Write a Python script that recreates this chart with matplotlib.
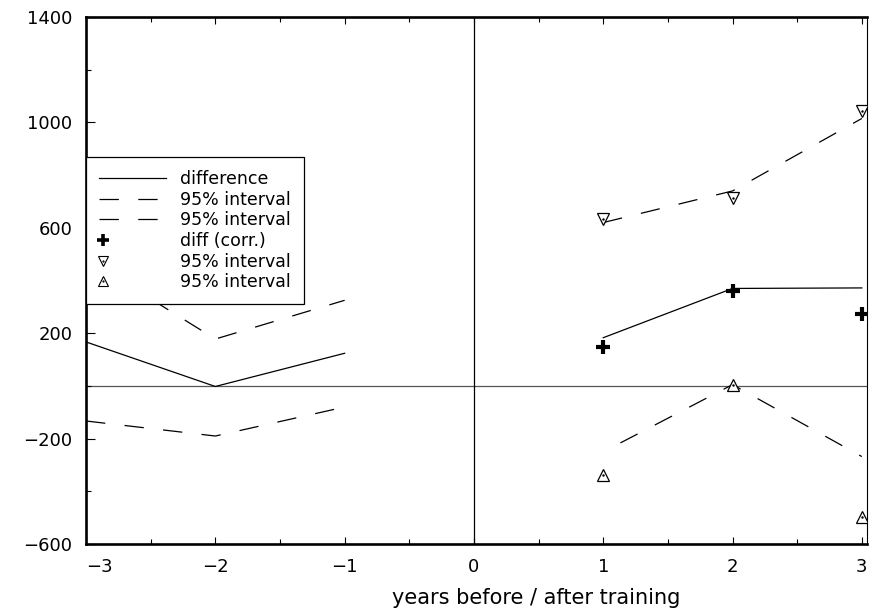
import matplotlib
matplotlib.use('Agg')
import matplotlib.pyplot as plt
import numpy as np
from matplotlib.ticker import MultipleLocator, FixedLocator
from matplotlib.legend_handler import HandlerTuple, HandlerLine2D
from matplotlib.lines import Line2D

# data
years_before = [-3, -2, -1]
diff_before = [167, -2, 124]
upper_before = [483, 178, 325]
lower_before = [-133, -190, -80]

years_after = [1, 2, 3]
diff_after = [183, 370, 372]
upper_after = [620, 740, 1015]
lower_after = [-250, 5, -268]

# corrected estimates (markers)
diff_corr = [149, 361, 273]
upper_corr = [635, 712, 1042]
lower_corr = [-338, 4, -496]

x_ticks = [-3, -2, -1, 0, 1, 2, 3]
y_ticks = [-600, -200, 200, 600, 1000, 1400]


class LeftMarker(HandlerLine2D):
    """legend marker drawn at the left end of the handle box"""
    def get_xdata(self, legend, xdescent, ydescent, width, height, fontsize):
        x = [-xdescent + 3.0]
        return x, x


plt.rcParams['font.family'] = 'DejaVu Sans'
fig = plt.figure(figsize=(8.69, 6.12), dpi=100)
ax = fig.add_axes([0.099, 0.111, 0.8987, 0.8612])

DASH = (0, (15.5, 15.5))
DASH_OFF = (15.5, (15.5, 15.5))

ax.axhline(0, color='#555555', lw=0.9, zorder=1)
ax.axvline(0, color='black', lw=0.9, zorder=1)

ax.plot(years_before, diff_before, color='black', lw=0.9)
ax.plot(years_before, upper_before, color='black', lw=0.9, linestyle=DASH)
ax.plot(years_before, lower_before, color='black', lw=0.9, linestyle=DASH)

ax.plot(years_after, diff_after, color='black', lw=0.9)
ax.plot(years_after, upper_after, color='black', lw=0.9, linestyle=DASH)
ax.plot(years_after, lower_after, color='black', lw=0.9, linestyle=DASH_OFF)

ax.plot(years_after, diff_corr, linestyle='none', marker='+', ms=10,
        mew=3, color='black', zorder=4)
ax.plot(years_after, upper_corr, linestyle='none', marker='v', ms=9,
        mfc='white', mec='black', mew=0.9, zorder=4)
ax.plot(years_after, lower_corr, linestyle='none', marker='^', ms=9,
        mfc='white', mec='black', mew=0.9, zorder=4)
# little centre dots inside the triangles
ax.plot(years_after, upper_corr, linestyle='none', marker='.', ms=1.5,
        color='black', zorder=5)
ax.plot(years_after, lower_corr, linestyle='none', marker='.', ms=1.5,
        color='black', zorder=5)

ax.set_xlim(-3, 3.04)
ax.set_ylim(-600, 1400)

ax.xaxis.set_major_locator(FixedLocator(x_ticks))
ax.xaxis.set_minor_locator(MultipleLocator(0.5))
ax.yaxis.set_major_locator(FixedLocator(y_ticks))
ax.yaxis.set_minor_locator(FixedLocator([-400, 0, 400, 800, 1200]))
ax.set_xticklabels([f'\u2212{abs(v)}' if v < 0 else str(v) for v in x_ticks])
ax.set_yticklabels([f'\u2212{abs(v)}' if v < 0 else str(v) for v in y_ticks])
ax.get_xticklabels()[0].set_horizontalalignment('left')

ax.tick_params(axis='x', which='major', direction='in', length=5, width=0.8,
               top=True, bottom=True, pad=10, labelsize=13)
ax.tick_params(axis='x', which='minor', direction='in', length=3.6, width=0.8,
               top=True, bottom=True)
ax.tick_params(axis='y', which='major', direction='in', length=6.5, width=0.8,
               left=True, right=False, pad=10, labelsize=13)
ax.tick_params(axis='y', which='minor', direction='in', length=3.6, width=0.8,
               left=True, right=False)

for side in ['left', 'bottom', 'top']:
    ax.spines[side].set_linewidth(1.9)
ax.spines['right'].set_linewidth(0.8)

ax.set_xlabel('years before / after training', fontsize=15, labelpad=9)
ax.xaxis.label.set_x(0.577)

# legend
h_diff = Line2D([], [], color='black', lw=0.9)
h_dash = Line2D([], [], color='black', lw=0.9, linestyle=DASH)
h_plus = Line2D([], [], color='black', linestyle='none', marker='+', ms=8, mew=2.6)
h_down = Line2D([], [], linestyle='none', marker='v', ms=7, mfc='white',
                mec='black', mew=0.8)
h_up = Line2D([], [], linestyle='none', marker='^', ms=7, mfc='white',
              mec='black', mew=0.8)
h_dot = Line2D([], [], linestyle='none', marker='.', ms=1.2, color='black')
handles = [h_diff, h_dash, h_dash, h_plus, (h_down, h_dot), (h_up, h_dot)]
labels = ['difference', '95% interval', '95% interval', 'diff (corr.)',
          '95% interval', '95% interval']
left = LeftMarker()
leg = ax.legend(handles, labels, loc='upper left', bbox_to_anchor=(0, 0.734),
                borderaxespad=0, fontsize=12.5, handlelength=3.86,
                handletextpad=0.8, labelspacing=0.15, fancybox=False,
                framealpha=1, edgecolor='black', borderpad=0.75,
                handler_map={h_plus: left, h_down: left, h_up: left,
                             h_dot: left,
                             tuple: HandlerTuple(ndivide=1, pad=0)})
leg.get_frame().set_linewidth(0.9)

fig.savefig('out.png', dpi=100)
